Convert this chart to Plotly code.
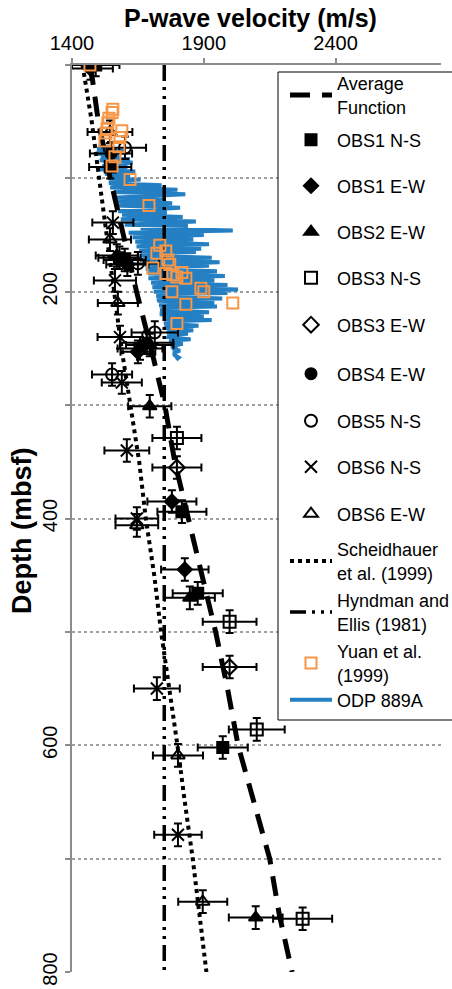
import plotly.graph_objects as go

# ---------------- data ----------------
avg_depth = [0, 50, 100, 150, 200, 250, 300, 350, 400, 450, 500, 550, 600, 650, 700, 750, 800]
avg_vel = [1470, 1500, 1545, 1593, 1645, 1700, 1752, 1790, 1840, 1893, 1945, 1990, 2030, 2090, 2150, 2187, 2235]

sch_depth = [0, 50, 100, 150, 200, 250, 300, 350, 400, 450, 500, 550, 600, 650, 700, 750, 800]
sch_vel = [1440, 1475, 1503, 1530, 1560, 1588, 1622, 1655, 1680, 1712, 1738, 1770, 1800, 1828, 1858, 1884, 1910]

hyn_depth = [0, 800]
hyn_vel = [1750, 1750]

odp_depth = [72, 73, 74, 76, 77, 78, 80, 82, 83, 84, 86, 88, 89, 90, 92, 94, 95, 96, 98, 100,
             101, 102, 104, 106, 107, 108, 110, 111, 112, 114, 116, 117, 118, 120, 122, 123, 124, 126, 128, 129,
             130, 132, 134, 135, 136, 138, 140, 141, 142, 144, 146, 147, 148, 150, 152, 153, 154, 156, 158, 159,
             160, 162, 164, 165, 166, 168, 170, 171, 172, 174, 176, 177, 178, 180, 182, 183, 184, 186, 188, 189,
             190, 192, 194, 195, 196, 198, 200, 201, 202, 204, 206, 207, 208, 210, 212, 213, 214, 216, 218, 219,
             220, 222, 224, 225, 226, 228, 230, 231, 232, 234, 236, 237, 238, 240, 242, 243, 244, 246, 248, 249,
             250, 252, 254, 255, 256, 258, 260]
odp_vel = [1500, 1560, 1495, 1600, 1530, 1490, 1580, 1510, 1620, 1505, 1630, 1560, 1515, 1610, 1500, 1640, 1570, 1525, 1620, 1540,
           1660, 1590, 1540, 1740, 1600, 1545, 1800, 1690, 1560, 1830, 1620, 1555, 1750, 1570, 1780, 1650, 1565, 1810, 1600, 1575,
           1760, 1590, 1820, 1700, 1585, 1870, 1620, 1600, 1840, 1660, 2010, 1700, 1615, 1900, 1630, 1750, 1860, 1640, 1920, 1700,
           1645, 1890, 1655, 1870, 1720, 1660, 1930, 1690, 1665, 1960, 1670, 1920, 1760, 1680, 1950, 1700, 1690, 1980, 1690, 1800,
           1940, 1700, 1990, 1760, 1705, 2030, 1710, 1990, 1780, 1720, 1970, 1730, 1725, 1940, 1730, 1950, 1760, 1735, 1920, 1740,
           1740, 1900, 1745, 1930, 1770, 1750, 1880, 1760, 1752, 1860, 1760, 1840, 1770, 1765, 1850, 1780, 1770, 1820, 1775, 1800,
           1780, 1810, 1785, 1790, 1790, 1805, 1795]

yuan_vel = [1468, 1555, 1552, 1540, 1536, 1533, 1589, 1529, 1582, 1525, 1578, 1563, 1552, 1620, 1692,
            1733, 1722, 1756, 1764, 1771, 1707, 1756, 1783, 1817, 1798, 1832, 1779, 1889, 1900, 1832, 2010, 1798]
yuan_depth = [0, 39, 42, 47, 51, 56, 58, 60, 64, 67, 72, 81, 89, 101, 124,
              159, 166, 164, 172, 176, 179, 184, 185, 183, 187, 188, 200, 197, 200, 211, 210, 228]

obs1ns_vel = [1490, 1545, 1580, 1658, 1817, 1877, 1972]
obs1ns_depth = [0, 90, 170, 250, 394, 466, 602]
obs1ns_err = [90, 80, 80, 85, 93, 95, 95]

obs1ew_vel = [1470, 1610, 1650, 1779, 1828]
obs1ew_depth = [3, 176, 253, 385, 445]
obs1ew_err = [85, 80, 66, 93, 90]

obs2ew_vel = [1570, 1695, 1695, 1847, 2097]
obs2ew_depth = [168, 247, 301, 470, 752]
obs2ew_err = [80, 90, 82, 95, 102]

obs3ns_vel = [1798, 1998, 2101, 2275]
obs3ns_depth = [329, 491, 586, 753]
obs3ns_err = [93, 102, 106, 112]

obs3ew_vel = [1798, 1998]
obs3ew_depth = [355, 531]
obs3ew_err = [93, 102]

obs4ew_vel = [1548, 1600, 1684]
obs4ew_depth = [78, 172, 245]
obs4ew_err = [80, 80, 100]

obs5ns_vel = [1601, 1650, 1714, 1552]
obs5ns_depth = [73, 175, 236, 273]
obs5ns_err = [80, 80, 88, 76]

obs6ns_vel = [1555, 1563, 1582, 1589, 1608, 1646, 1722, 1802]
obs6ns_depth = [139, 190, 240, 280, 340, 400, 550, 679]
obs6ns_err = [78, 80, 85, 76, 85, 81, 87, 90]

obs6ew_vel = [1544, 1544, 1574, 1646, 1802, 1896]
obs6ew_depth = [59, 154, 210, 406, 609, 738]
obs6ew_err = [85, 80, 76, 81, 95, 93]

depth_err = 10

x_ticks = [1400, 1900, 2400]
y_ticks = [0, 100, 200, 300, 400, 500, 600, 700, 800]
y_ticktext = ["", "", "200", "", "400", "", "600", "", "800"]

# ---------------- layout helpers ----------------
W, H = 452, 989
L, R, T, B = 72, 11, 65, 17
PW, PH = W - L - R, H - T - B


def px_x(p):
    return (p - L) / PW


def px_y(p):
    return 1 - (p - T) / PH


FONT = "Liberation Sans, Arial, sans-serif"
fig = go.Figure()

fig.add_trace(go.Scatter(x=odp_vel, y=odp_depth, mode="lines", name="ODP 889A",
                         line=dict(color="#2580C3", width=4), legend="legend14"))
fig.add_trace(go.Scatter(x=hyn_vel, y=hyn_depth, mode="lines", name="Hyndman and<br>Ellis (1981)",
                         line=dict(color="black", width=3.5, dash="16px,6px,3px,6px,3px,6px"), legend="legend12"))
fig.add_trace(go.Scatter(x=sch_vel, y=sch_depth, mode="lines", name="Scheidhauer<br>et al. (1999)",
                         line=dict(color="black", width=4, dash="4px,4px"), legend="legend11"))
fig.add_trace(go.Scatter(x=avg_vel, y=avg_depth, mode="lines", name="Average<br>Function",
                         line=dict(color="black", width=5, dash="20px,12px"), legend="legend"))

obs = [
    ("OBS1 N-S", obs1ns_vel, obs1ns_depth, obs1ns_err, "square", 11, "legend2"),
    ("OBS1 E-W", obs1ew_vel, obs1ew_depth, obs1ew_err, "diamond", 11, "legend3"),
    ("OBS2 E-W", obs2ew_vel, obs2ew_depth, obs2ew_err, "triangle-up", 12, "legend4"),
    ("OBS3 N-S", obs3ns_vel, obs3ns_depth, obs3ns_err, "square-open", 12, "legend5"),
    ("OBS3 E-W", obs3ew_vel, obs3ew_depth, obs3ew_err, "diamond-open", 12, "legend6"),
    ("OBS4 E-W", obs4ew_vel, obs4ew_depth, obs4ew_err, "circle", 11, "legend7"),
    ("OBS5 N-S", obs5ns_vel, obs5ns_depth, obs5ns_err, "circle-open", 12, "legend8"),
    ("OBS6 N-S", obs6ns_vel, obs6ns_depth, obs6ns_err, "x-thin-open", 12, "legend9"),
    ("OBS6 E-W", obs6ew_vel, obs6ew_depth, obs6ew_err, "triangle-up-open", 12, "legend10"),
]
for name, xv, yv, err, sym, size, lg in obs:
    fig.add_trace(go.Scatter(
        x=xv, y=yv, mode="markers", name=name, legend=lg,
        marker=dict(symbol=sym, size=size, color="black", line=dict(color="black", width=2)),
        error_x=dict(type="data", array=err, color="black", thickness=2, width=4),
        error_y=dict(type="constant", value=depth_err, color="black", thickness=2, width=4),
    ))

fig.add_trace(go.Scatter(x=yuan_vel, y=yuan_depth, mode="markers", name="Yuan et al.<br>(1999)",
                         legend="legend13",
                         marker=dict(symbol="square-open", size=11, color="#F79646",
                                     line=dict(color="#F79646", width=2))))

# legend box
fig.add_shape(type="rect", xref="paper", yref="paper",
              x0=px_x(278), x1=px_x(470), y0=px_y(720), y1=px_y(72),
              line=dict(color="black", width=1), fillcolor="white", layer="above")

legend_centers = {
    "legend": 95, "legend2": 140, "legend3": 186, "legend4": 232, "legend5": 278,
    "legend6": 325, "legend7": 374, "legend8": 421, "legend9": 467, "legend10": 514,
    "legend11": 561, "legend12": 612, "legend13": 663, "legend14": 700,
}
legend_layout = {}
for key, cy in legend_centers.items():
    legend_layout[key] = dict(
        x=px_x(285), y=px_y(cy), xanchor="left", yanchor="middle",
        bgcolor="rgba(0,0,0,0)", borderwidth=0,
        font=dict(family=FONT, size=18, color="black"),
        itemwidth=42,
    )

fig.update_layout(
    width=W, height=H,
    margin=dict(l=L, r=R, t=T, b=B, pad=0, autoexpand=False),
    paper_bgcolor="white", plot_bgcolor="white",
    font=dict(family=FONT, color="black"),
    showlegend=True,
    **legend_layout,
    xaxis=dict(
        side="top", range=[1400, 2800], tickvals=x_ticks,
        showline=True, linecolor="#8c8c8c", linewidth=2,
        ticks="outside", ticklen=5, tickwidth=2, tickcolor="#8c8c8c",
        showgrid=False, zeroline=False,
        tickfont=dict(family=FONT, size=20, color="black"),
    ),
    yaxis=dict(
        range=[800, 0], tickvals=y_ticks, ticktext=y_ticktext, tickangle=-90,
        showline=True, linecolor="#8c8c8c", linewidth=2,
        ticks="outside", ticklen=5, tickwidth=2, tickcolor="#8c8c8c",
        showgrid=True, gridcolor="#a0a0a0", gridwidth=2, griddash="dot",
        zeroline=False,
        tickfont=dict(family=FONT, size=20, color="black"),
    ),
    annotations=[
        dict(text="<b>P-wave velocity (m/s)</b>", xref="paper", yref="paper",
             x=px_x(250), y=px_y(18), xanchor="center", yanchor="middle",
             showarrow=False, font=dict(family=FONT, size=25, color="black")),
        dict(text="<b>Depth (mbsf)</b>", xref="paper", yref="paper",
             x=px_x(22), y=px_y(531), xanchor="center", yanchor="middle", textangle=-90,
             showarrow=False, font=dict(family=FONT, size=27, color="black")),
    ],
)

fig.write_html("out.html")
